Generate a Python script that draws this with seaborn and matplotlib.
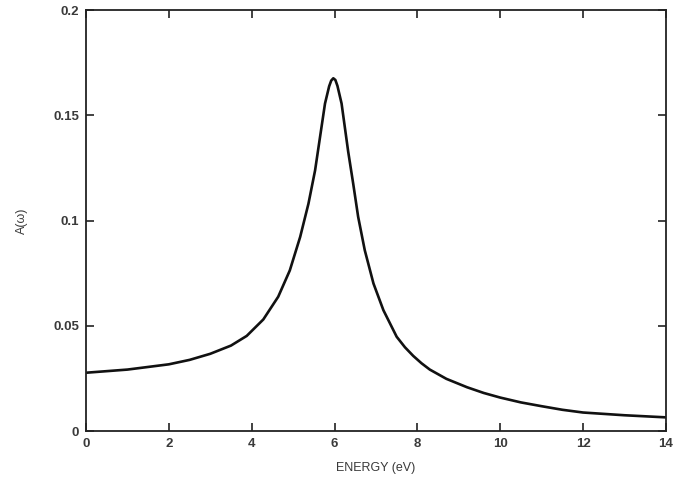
import matplotlib
matplotlib.use("Agg")
import matplotlib.pyplot as plt
import seaborn as sns
import pandas as pd

energy = [0, 1, 2, 2.5, 3, 3.5, 3.88, 4.28, 4.64, 4.92, 5.17, 5.37, 5.53, 5.65, 5.77,
          5.87, 5.92, 5.97, 6.02, 6.07, 6.17, 6.33, 6.45, 6.57, 6.73, 6.94, 7.18, 7.5,
          7.7, 7.9, 8.1, 8.3, 8.7, 9.2, 9.6, 10, 10.5, 11, 11.5, 12, 13, 14]
spectral = [0.0277, 0.0292, 0.0317, 0.0338, 0.0367, 0.0406, 0.0452, 0.0530, 0.0638, 0.0763,
            0.0922, 0.1080, 0.1238, 0.1397, 0.1556, 0.1638, 0.1665, 0.1676, 0.1668, 0.1640,
            0.1556, 0.1327, 0.1176, 0.1018, 0.0859, 0.0701, 0.0574, 0.0448, 0.0398, 0.0357,
            0.0322, 0.0292, 0.0248, 0.0208, 0.0181, 0.0159, 0.0136, 0.0118, 0.0101, 0.0088,
            0.0075, 0.0065]
xticks = [0, 2, 4, 6, 8, 10, 12, 14]
yticks = [0, 0.05, 0.1, 0.15, 0.2]
ytick_labels = ["0", "0.05", "0.1", "0.15", "0.2"]

sns.set_style("ticks")
plt.rcParams['font.family'] = ['Liberation Sans', 'DejaVu Sans']

df = pd.DataFrame({"ENERGY (eV)": energy, "A": spectral})

fig = plt.figure(figsize=(6.74, 4.8), dpi=100)
ax = fig.add_axes([0.1276, 0.102, 0.988 - 0.1276, 0.979 - 0.102])
sns.lineplot(data=df, x="ENERGY (eV)", y="A", ax=ax, color="#111111", linewidth=1.9)
for l in ax.lines:
    l.set_solid_joinstyle("round")

ax.set_xlim(0, 14)
ax.set_ylim(0, 0.2)
ax.set_xticks(xticks)
ax.set_xticklabels([str(t) for t in xticks])
ax.set_yticks(yticks)
ax.set_yticklabels(ytick_labels)
ax.tick_params(direction="in", length=6, width=1.2, top=True, right=True,
               labelsize=9.5, colors="#222222", labelcolor="#3a3a3a", pad=5)
for lab in ax.get_xticklabels() + ax.get_yticklabels():
    lab.set_fontweight("bold")
for s in ax.spines.values():
    s.set_linewidth(1.3)
    s.set_color("#222222")
ax.set_xlabel("ENERGY (eV)", fontsize=9, color="#3a3a3a", labelpad=9)
ax.set_ylabel("A(\u03c9)", fontsize=9, color="#3a3a3a", labelpad=18)

fig.savefig("out.png", dpi=100)
